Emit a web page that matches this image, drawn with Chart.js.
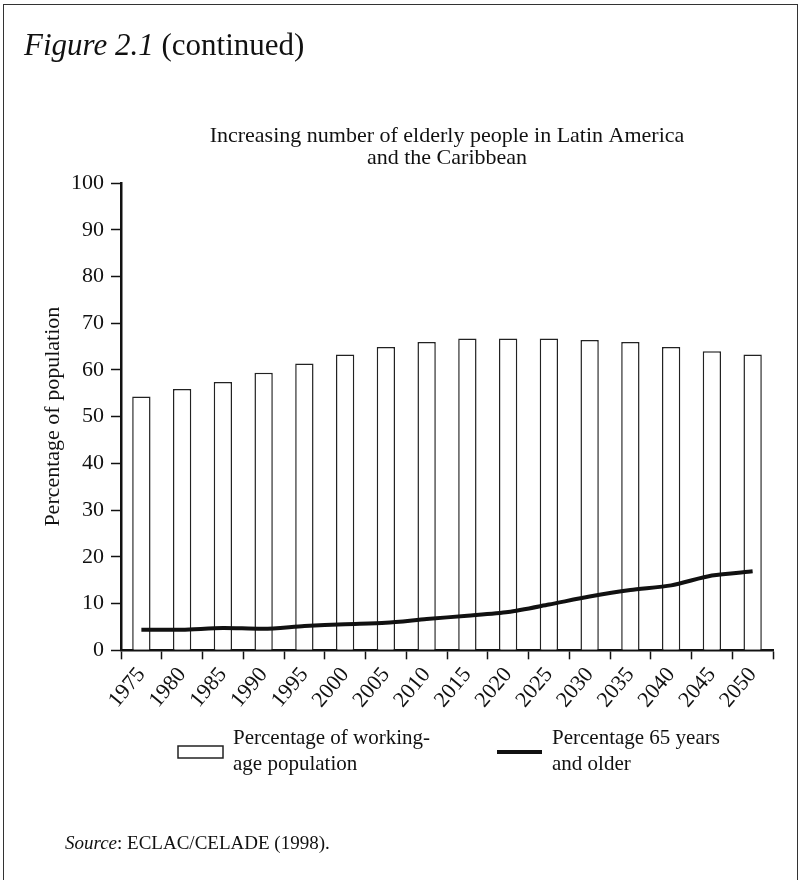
<!DOCTYPE html>
<html>
<head>
<meta charset="utf-8">
<script src="https://cdn.jsdelivr.net/npm/chart.js@4.4.1/dist/chart.umd.min.js"></script>
<style>
  html, body { margin: 0; padding: 0; background: #fff; }
  #page { position: relative; width: 799px; height: 880px; overflow: hidden; font-family: "Liberation Serif", "DejaVu Serif", serif; color: #111; }
  #frame { position: absolute; left: 3px; top: 4px; width: 793px; height: 900px; border: 1.5px solid #333; border-bottom: none; }
  #caption { position: absolute; left: 24px; top: 27px; font-size: 31px; white-space: nowrap; }
  #source { position: absolute; left: 65px; top: 832px; font-size: 19px; white-space: nowrap; }
  #chart { position: absolute; left: 0; top: 0; }
</style>
</head>
<body>
<div id="page">
  <div id="frame"></div>
  <canvas id="chart" width="799" height="880"></canvas>
  <div id="caption"><i>Figure 2.1</i> (continued)</div>
  <div id="source"><i>Source</i>: ECLAC/CELADE (1998).</div>
</div>
<script>
const years = ['1975', '1980', '1985', '1990', '1995', '2000', '2005', '2010',
               '2015', '2020', '2025', '2030', '2035', '2040', '2045', '2050'];
// porcentaje de poblacion en edad de trabajar
const workingAge = [54.3, 55.9, 57.4, 59.4, 61.4, 63.3, 64.9, 66.0,
                    66.7, 66.7, 66.7, 66.4, 66.0, 64.9, 64.0, 63.3];
// porcentaje de 65 anos y mas
const elderly = [4.4, 4.4, 4.8, 4.6, 5.2, 5.6, 5.9, 6.7,
                 7.4, 8.2, 9.8, 11.5, 12.9, 13.9, 16.0, 16.9];
const yTicks = [0, 10, 20, 30, 40, 50, 60, 70, 80, 90, 100];
const titleLines = ['Increasing number of elderly people in Latin America', 'and the Caribbean'];

const serif = '"Liberation Serif", "DejaVu Serif", serif';

// titulo centrado sobre el area del grafico y leyenda de dos lineas
const textBits = {
    id: 'textBits',
    afterDraw(chart, args, opts) {
        const ctx = chart.ctx;
        const area = chart.chartArea;
        ctx.save();
        ctx.fillStyle = '#111';

        ctx.font = `${opts.titleSize}px ${serif}`;
        ctx.textAlign = 'center';
        ctx.textBaseline = 'middle';
        titleLines.forEach((t, i) => {
            ctx.fillText(t, (area.left + area.right) / 2, opts.titleY + i * opts.titleGap);
        });

        ctx.font = `${opts.fontSize}px ${serif}`;
        ctx.textAlign = 'left';
        ctx.textBaseline = 'alphabetic';
        opts.items.forEach(item => {
            const ds = chart.data.datasets[item.dataset];
            if (ds.type === 'line') {
                ctx.strokeStyle = ds.borderColor;
                ctx.lineWidth = ds.borderWidth;
                ctx.beginPath();
                ctx.moveTo(item.x, opts.markY);
                ctx.lineTo(item.x + opts.markW, opts.markY);
                ctx.stroke();
            } else {
                ctx.fillStyle = ds.backgroundColor;
                ctx.fillRect(item.x, opts.markY - 6, opts.markW, 12);
                ctx.strokeStyle = ds.borderColor;
                ctx.lineWidth = 1.5;
                ctx.strokeRect(item.x, opts.markY - 6, opts.markW, 12);
                ctx.fillStyle = '#111';
            }
            item.lines.forEach((t, i) => {
                ctx.fillText(t, item.x + opts.markW + 10, opts.baseY + i * opts.lineGap);
            });
        });
        ctx.restore();
    }
};

new Chart(document.getElementById('chart').getContext('2d'), {
    type: 'bar',
    data: {
        labels: years,
        datasets: [
            {
                type: 'line',
                label: 'Percentage 65 years and older',
                data: elderly,
                borderColor: '#111',
                borderWidth: 4,
                tension: 0.25,
                pointRadius: 0,
                fill: false,
                order: 0
            },
            {
                type: 'bar',
                label: 'Percentage of working-age population',
                data: workingAge,
                backgroundColor: '#fff',
                borderColor: '#222',
                borderWidth: 1.5,
                borderSkipped: 'bottom',
                categoryPercentage: 0.9,
                barPercentage: 0.5,
                order: 1
            }
        ]
    },
    options: {
        responsive: false,
        animation: false,
        layout: { padding: { top: 183, left: 40, right: 26, bottom: 164 } },
        plugins: {
            legend: { display: false },
            tooltip: { enabled: false },
            title: { display: false },
            textBits: {
                titleSize: 22,
                titleY: 136,
                titleGap: 22,
                fontSize: 21,
                markY: 752,
                markW: 45,
                baseY: 744,
                lineGap: 26,
                items: [
                    { dataset: 1, x: 178, lines: ['Percentage of working-', 'age population'] },
                    { dataset: 0, x: 497, lines: ['Percentage 65 years', 'and older'] }
                ]
            }
        },
        scales: {
            x: {
                grid: { display: true, drawOnChartArea: false, offset: true, tickLength: 9, tickColor: '#111', tickWidth: 1.5 },
                border: { display: true, color: '#111', width: 2.5 },
                ticks: {
                    color: '#111',
                    font: { family: serif, size: 22 },
                    minRotation: 50,
                    maxRotation: 50,
                    autoSkip: false,
                    padding: 3
                }
            },
            y: {
                min: 0,
                max: 100,
                afterFit(scale) { scale.width = 81; },
                afterBuildTicks(scale) { scale.ticks = yTicks.map(v => ({ value: v })); },
                grid: { display: true, drawOnChartArea: false, tickLength: 10, tickColor: '#111', tickWidth: 1.5 },
                border: { display: true, color: '#111', width: 2.5 },
                ticks: {
                    color: '#111',
                    font: { family: serif, size: 22 },
                    padding: 7
                },
                title: {
                    display: true,
                    text: 'Percentage of population',
                    color: '#111',
                    font: { family: serif, size: 22 },
                    padding: 0
                }
            }
        }
    },
    plugins: [textBits]
});
</script>
</body>
</html>
